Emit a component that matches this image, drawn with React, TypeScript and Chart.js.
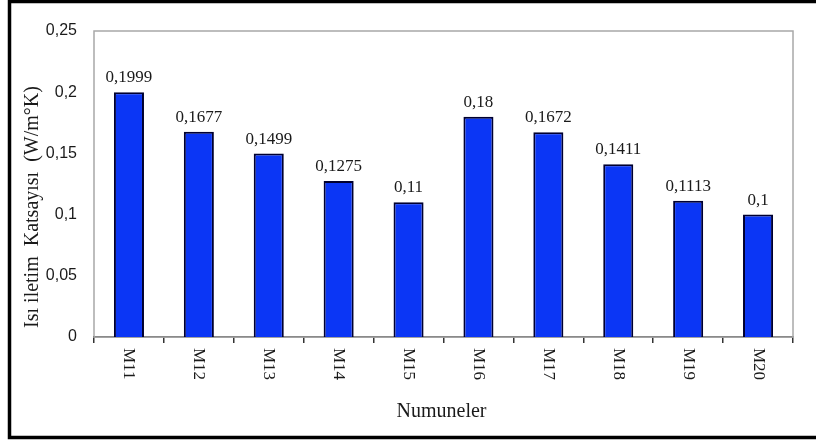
import { useEffect, useRef } from "react";
import { Chart, registerables } from "chart.js";

Chart.register(...registerables);

const categories = ["M11", "M12", "M13", "M14", "M15", "M16", "M17", "M18", "M19", "M20"];
const values = [0.1999, 0.1677, 0.1499, 0.1275, 0.11, 0.18, 0.1672, 0.1411, 0.1113, 0.1];
const yMin = 0;
const yMax = 0.25;
const yStep = 0.05;
const yTitle = "Isı iletim  Katsayısı  (W/m°K)";
const xTitle = "Numuneler";

const fmt = (v: number) => String(Number(v.toFixed(4))).replace(".", ",");

const SERIF = '"Liberation Serif", "Times New Roman", serif';
const SANS = '"Liberation Sans", Arial, sans-serif';

const deco = {
  id: "deco",
  beforeDatasetsDraw(chart: any) {
    const { ctx, chartArea: a } = chart;
    ctx.save();
    ctx.strokeStyle = "#a8a8a8";
    ctx.lineWidth = 1.5;
    ctx.strokeRect(a.left, a.top, a.right - a.left, a.bottom - a.top);
    ctx.restore();
  },
  afterDatasetsDraw(chart: any) {
    const { ctx } = chart;
    const meta = chart.getDatasetMeta(0);
    ctx.save();
    ctx.font = `17px ${SERIF}`;
    ctx.fillStyle = "#1a1a1a";
    ctx.textAlign = "center";
    ctx.textBaseline = "alphabetic";
    meta.data.forEach((bar: any, i: number) => {
      ctx.fillText(fmt(values[i]), bar.x, bar.y - 10);
    });
    ctx.restore();
  },
  afterDraw(chart: any) {
    const { ctx, chartArea: a } = chart;
    const xs = chart.scales.x;
    ctx.save();
    ctx.fillStyle = "#1a1a1a";
    ctx.font = `17px ${SERIF}`;
    categories.forEach((c, i) => {
      const x = xs.getPixelForTick(i);
      ctx.save();
      ctx.translate(x, a.bottom + 11);
      ctx.rotate(Math.PI / 2);
      ctx.textAlign = "left";
      ctx.textBaseline = "middle";
      ctx.fillText(c, 0, 0);
      ctx.restore();
    });
    // x title
    ctx.font = `20px ${SERIF}`;
    ctx.textAlign = "center";
    ctx.textBaseline = "alphabetic";
    ctx.fillText(xTitle, (a.left + a.right) / 2 - 2, 417);
    // y title
    ctx.save();
    ctx.translate(33, 207);
    ctx.rotate(-Math.PI / 2);
    ctx.font = `20px ${SERIF}`;
    ctx.textAlign = "center";
    ctx.textBaseline = "middle";
    ctx.fillText(yTitle, 0, 0);
    ctx.restore();
    // outer border
    ctx.strokeStyle = "#000";
    ctx.lineWidth = 3.5;
    ctx.strokeRect(9.5, 1.5, 830, 436);
    ctx.restore();
  },
};

export default function App() {
  const ref = useRef<HTMLCanvasElement | null>(null);
  useEffect(() => {
    if (!ref.current) return;
    const chart = new Chart(ref.current, {
      type: "bar",
      data: {
        labels: categories,
        datasets: [
          {
            data: values,
            backgroundColor: "#0B36F5",
            borderColor: "#000030",
            borderWidth: 2,
            barPercentage: 0.43,
            categoryPercentage: 1,
          },
        ],
      },
      options: {
        animation: false,
        responsive: false,
        devicePixelRatio: 1,
        layout: { padding: { left: 0, top: 31, right: 23, bottom: 0 } },
        plugins: { legend: { display: false }, tooltip: { enabled: false } },
        scales: {
          x: {
            afterFit: (s: any) => {
              s.height = 104;
            },
            grid: {
              display: true,
              drawOnChartArea: false,
              drawTicks: true,
              tickLength: 6,
              color: "#333",
              lineWidth: 1.5,
              offset: true,
            },
            border: { display: true, color: "#333", width: 1.5 },
            ticks: { display: false },
          },
          y: {
            min: yMin,
            max: yMax,
            afterFit: (s: any) => {
              s.width = 94;
            },
            grid: { display: false, drawTicks: false },
            border: { display: false },
            ticks: {
              stepSize: yStep,
              padding: 17,
              color: "#1a1a1a",
              font: { family: SANS, size: 16 },
              callback: (v: any) => fmt(Number(v)),
            },
          },
        },
      },
      plugins: [deco],
    });
    return () => chart.destroy();
  }, []);
  return (
    <div style={{ position: "fixed", left: 0, top: 0, width: 816, height: 441, background: "#fff" }}>
      <canvas ref={ref} width={816} height={441} style={{ display: "block" }} />
    </div>
  );
}
